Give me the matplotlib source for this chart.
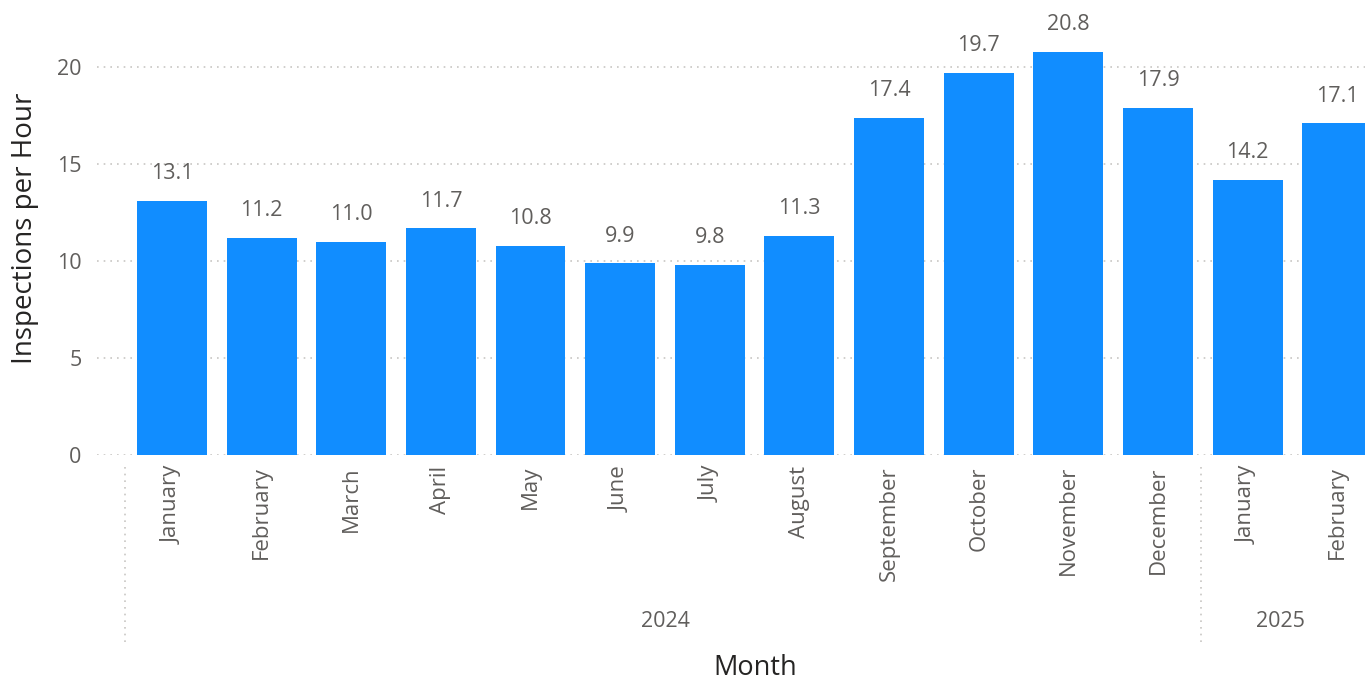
import matplotlib.pyplot as plt
import numpy as np

months = ['January', 'February', 'March', 'April', 'May', 'June', 'July',
          'August', 'September', 'October', 'November', 'December',
          'January', 'February']
years = ['2024', '2025']
year_counts = [12, 2]
values = [13.1, 11.2, 11.0, 11.7, 10.8, 9.9, 9.8, 11.3, 17.4, 19.7, 20.8, 17.9, 14.2, 17.1]

plt.rcParams['font.family'] = ['Open Sans', 'DejaVu Sans']
bar_color = '#118DFF'
tick_color = '#605E5C'
label_color = '#252423'

fig = plt.figure(figsize=(13.65, 6.83), dpi=100)
ax = fig.add_axes([97 / 1365, 1 - 455 / 683, 1 - 97 / 1365, (455 - 38) / 683])

x = np.arange(len(values))
bars = ax.bar(x, values, width=0.78, color=bar_color, zorder=2)

# data labels
for xi, v in zip(x, values):
    ax.text(xi, v + 0.85, f'{v:.1f}', ha='center', va='bottom', fontsize=15.5,
            color=tick_color, clip_on=False)

ax.set_xlim(-0.837, 13.31)
ax.set_ylim(0, 21.5)
ax.set_yticks([0, 5, 10, 15, 20])
ax.yaxis.grid(True, linestyle=(0, (1, 3)), color='#C8C6C4', linewidth=1.2, zorder=0)
ax.set_axisbelow(True)
for s in ax.spines.values():
    s.set_visible(False)
ax.tick_params(axis='y', length=0, labelsize=15.5, labelcolor=tick_color, pad=11)
ax.set_xticks(x)
ax.set_xticklabels(months, rotation=90, fontsize=16, color=tick_color)
ax.tick_params(axis='x', length=0, pad=8)

# year group labels and separators
start = 0
for yr, n in zip(years, year_counts):
    end = start + n
    if yr == '2025':
        cx = 12.37
    else:
        cx = (start + end - 1) / 2
    ax.text(cx, -8.6, yr, ha='center', va='center', fontsize=15.5,
            color=tick_color, clip_on=False)
    ax.plot([start - 0.52, start - 0.52], [-0.6, -9.9], linestyle=(0, (1, 3)),
            color='#C8C6C4', linewidth=1.2, clip_on=False)
    start = end

fig.text(755 / 1365, 1 - 668 / 683, 'Month', ha='center', va='center',
         fontsize=19.5, color=label_color)
fig.text(25 / 1365, 1 - 228 / 683, 'Inspections per Hour', ha='center',
         va='center', rotation=90, fontsize=20, color=label_color)

fig.savefig('out.png', dpi=100)
